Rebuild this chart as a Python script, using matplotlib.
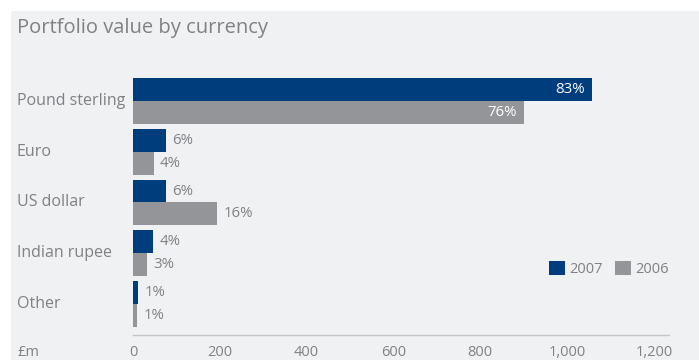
import matplotlib
matplotlib.use("Agg")
import matplotlib.pyplot as plt
from matplotlib.patches import Rectangle, Patch
from matplotlib.transforms import blended_transform_factory

categories = ["Pound sterling", "Euro", "US dollar", "Indian rupee", "Other"]
value_2007 = [1058, 75, 76, 46, 12]
value_2006 = [901, 48, 194, 32, 9]
share_2007 = ["83%", "6%", "6%", "4%", "1%"]
share_2006 = ["76%", "4%", "16%", "3%", "1%"]
xticks = [0, 200, 400, 600, 800, 1000, 1200]
xtick_labels = ["0", "200", "400", "600", "800", "1,000", "1,200"]

NAVY = "#003d7c"
GREY = "#939598"
TEXT = "#7f8185"
PANEL = "#f0f1f3"

plt.rcParams["font.family"] = ["Open Sans", "DejaVu Sans"]

W, H = 699, 360
fig = plt.figure(figsize=(W / 100, H / 100), dpi=100)
fig.patch.set_facecolor("white")
# light panel behind everything, inset from the top and left edges
fig.patches.append(Rectangle((11 / W, 0), 1 - 11 / W, 1 - 11 / H,
                             transform=fig.transFigure, facecolor=PANEL,
                             edgecolor="none", zorder=-10))

ax = fig.add_axes([133 / W, 25 / H, 536 / W, 275 / H])
ax.set_facecolor("none")

n = len(categories)
centers = [n - 1 - i for i in range(n)]
h = 0.45
ax.barh([c + h / 2 for c in centers], value_2007, height=h, color=NAVY)
ax.barh([c - h / 2 for c in centers], value_2006, height=h, color=GREY)

ax.set_xlim(0, 1235)
ax.set_ylim(-0.614, 4.81)

# value labels: the first row sits inside its bars in white
for i, c in enumerate(centers):
    for val, lab, y in ((value_2007[i], share_2007[i], c + h / 2),
                        (value_2006[i], share_2006[i], c - h / 2)):
        if i == 0:
            ax.annotate(lab, (val, y), xytext=(-5.5, 0), textcoords="offset points",
                        ha="right", va="center", color="white", fontsize=10.8)
        else:
            ax.annotate(lab, (val, y), xytext=(4.5, 0), textcoords="offset points",
                        ha="left", va="center", color=TEXT, fontsize=10.8)

# category names flush with the left edge of the panel
trans = blended_transform_factory(fig.transFigure, ax.transData)
for name, c in zip(categories, centers):
    ax.text(17 / W, c, name, transform=trans, ha="left", va="center",
            color=TEXT, fontsize=11.5)

for s in ("top", "right", "left"):
    ax.spines[s].set_visible(False)
ax.spines["bottom"].set_color("#c4c6c9")
ax.spines["bottom"].set_linewidth(1.0)
ax.set_yticks([])
ax.set_xticks(xticks)
ax.set_xticklabels(xtick_labels)
ax.tick_params(axis="x", length=0, pad=7, labelsize=10.5, labelcolor=TEXT)

fig.text(17 / W, 1 - 352 / H, "£m", ha="left", va="center", color=TEXT, fontsize=10.5)
fig.text(17 / W, 1 - 28 / H, "Portfolio value by currency", ha="left", va="center",
         color=TEXT, fontsize=14.5)

handles = [Patch(facecolor=NAVY), Patch(facecolor=GREY)]
fig.legend(handles, ["2007", "2006"], loc="center left",
           bbox_to_anchor=(549 / W, 1 - 269 / H), ncol=2, frameon=False,
           borderpad=0, borderaxespad=0, handlelength=1.1, handleheight=1.1,
           handletextpad=0.3, columnspacing=0.8, labelcolor=TEXT, fontsize=10.5)

fig.savefig("out.png", dpi=100, facecolor=fig.get_facecolor())
